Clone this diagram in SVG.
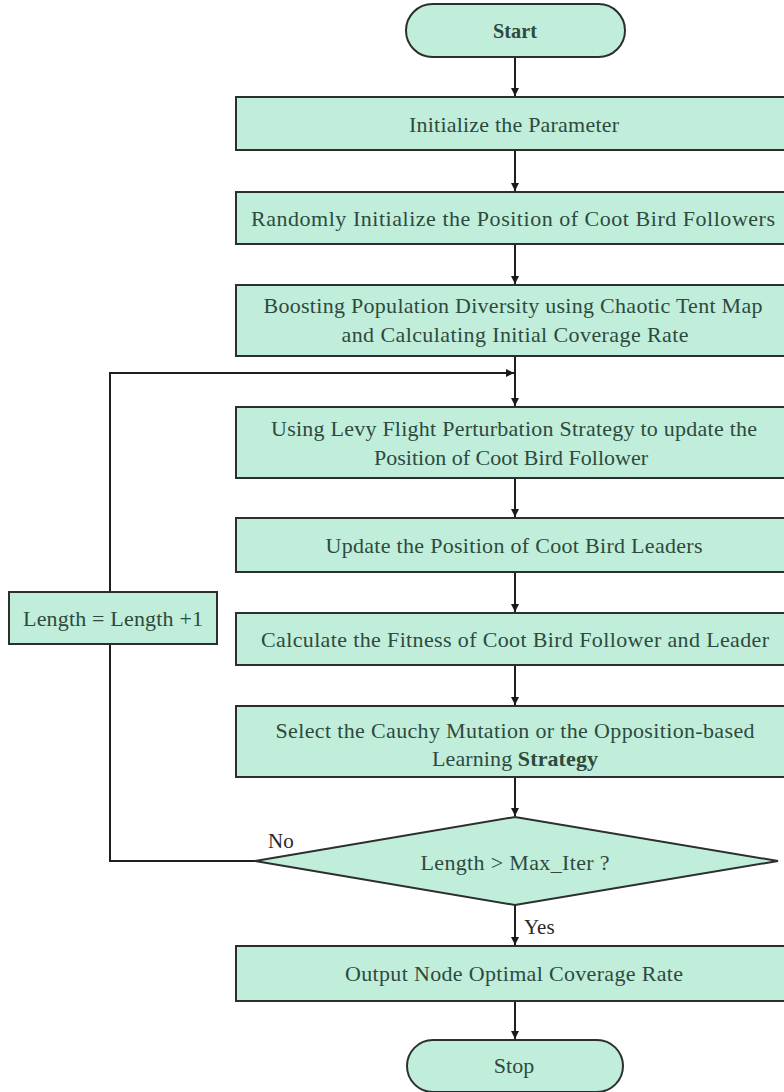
<svg xmlns="http://www.w3.org/2000/svg" width="784" height="1092" viewBox="0 0 784 1092">
<defs>
<marker id="arr" viewBox="0 0 10 10" refX="10" refY="5" markerWidth="8" markerHeight="8" orient="auto" markerUnits="userSpaceOnUse">
<path d="M0,0 L10,5 L0,10 z" fill="#1a1a1a"/>
</marker>
<style>
.n{fill:#c0eeda;stroke:#2b2f2d;stroke-width:2}
.t{font-family:"Liberation Serif","Times New Roman",serif;font-size:22px;fill:#2e4a3e;text-anchor:middle;dominant-baseline:central}
.l{font-family:"Liberation Serif","Times New Roman",serif;font-size:21px;fill:#2a2a2a}
.c{fill:none;stroke:#1f1f1f;stroke-width:2}
</style>
</defs>
<rect width="784" height="1092" fill="#ffffff"/>
<g id="connectors">
<path class="c" d="M515,57 V96" marker-end="url(#arr)"/>
<path class="c" d="M515,150 V191" marker-end="url(#arr)"/>
<path class="c" d="M515,244 V284" marker-end="url(#arr)"/>
<path class="c" d="M515,356 V406" marker-end="url(#arr)"/>
<path class="c" d="M110,592 V373 H514" marker-end="url(#arr)"/>
<path class="c" d="M515,478 V517" marker-end="url(#arr)"/>
<path class="c" d="M515,572 V612" marker-end="url(#arr)"/>
<path class="c" d="M515,665 V705" marker-end="url(#arr)"/>
<path class="c" d="M515,777 V816" marker-end="url(#arr)"/>
<path class="c" d="M255,861 H110 V644"/>
<path class="c" d="M515,905 V945" marker-end="url(#arr)"/>
<path class="c" d="M515,1001 V1039" marker-end="url(#arr)"/>
<text class="l" x="268" y="848">No</text>
<text class="l" x="524" y="934">Yes</text>
</g>
<g id="start">
<rect class="n" x="406" y="4" width="219" height="53" rx="26.5"/>
<text class="t" x="515" y="30" font-weight="bold" textLength="44" lengthAdjust="spacingAndGlyphs">Start</text>
</g>
<g id="init">
<rect class="n" x="236" y="97" width="552" height="53"/>
<text class="t" x="514" y="124" textLength="210">Initialize the Parameter</text>
</g>
<g id="random">
<rect class="n" x="236" y="192" width="552" height="52"/>
<text class="t" x="513" y="218" textLength="524">Randomly Initialize the Position of Coot Bird Followers</text>
</g>
<g id="boosting">
<rect class="n" x="236" y="285" width="552" height="71"/>
<text class="t" x="513" y="305" textLength="499">Boosting Population Diversity using Chaotic Tent Map</text>
<text class="t" x="515" y="334" textLength="347">and Calculating Initial Coverage Rate</text>
</g>
<g id="levy">
<rect class="n" x="236" y="407" width="552" height="71"/>
<text class="t" x="514" y="428" textLength="486">Using Levy Flight Perturbation Strategy to update the</text>
<text class="t" x="511" y="457" textLength="274">Position of Coot Bird Follower</text>
</g>
<g id="update">
<rect class="n" x="236" y="518" width="552" height="54"/>
<text class="t" x="514" y="545" textLength="377">Update the Position of Coot Bird Leaders</text>
</g>
<g id="length">
<rect class="n" x="9" y="592" width="208" height="52"/>
<text class="t" x="113" y="618" textLength="180">Length = Length +1</text>
</g>
<g id="calc">
<rect class="n" x="236" y="613" width="552" height="52"/>
<text class="t" x="515" y="639" textLength="508">Calculate the Fitness of Coot Bird Follower and Leader</text>
</g>
<g id="select">
<rect class="n" x="236" y="706" width="552" height="71"/>
<text class="t" x="515" y="730" textLength="479">Select the Cauchy Mutation or the Opposition-based</text>
<text class="t" x="515" y="758" textLength="166">Learning <tspan font-weight="bold">Strategy</tspan></text>
</g>
<g id="decision">
<polygon class="n" points="255,861 515,817 778,861 515,905"/>
<text class="t" x="515" y="862" textLength="189">Length &gt; Max_Iter ?</text>
</g>
<g id="output">
<rect class="n" x="236" y="946" width="552" height="55"/>
<text class="t" x="514" y="973" textLength="338">Output Node Optimal Coverage Rate</text>
</g>
<g id="stop">
<rect class="n" x="407" y="1040" width="216" height="52" rx="26"/>
<text class="t" x="514" y="1065">Stop</text>
</g>
</svg>
